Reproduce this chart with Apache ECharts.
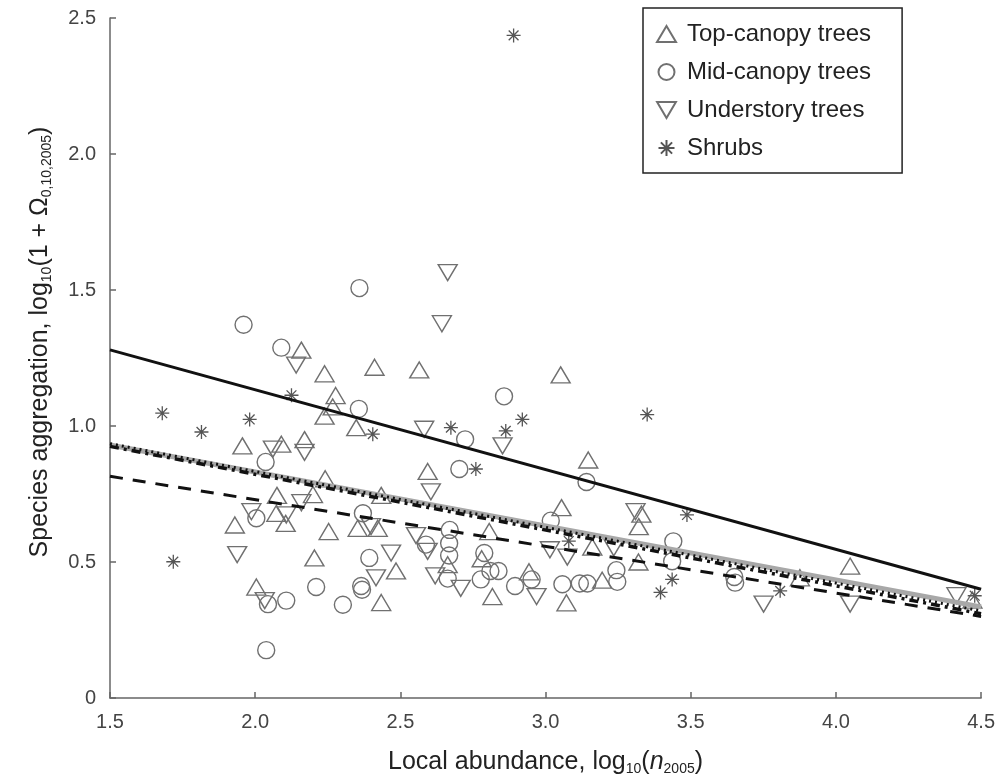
<!DOCTYPE html>
<html>
<head>
<meta charset="utf-8">
<title>Species aggregation vs local abundance</title>
<script src="https://cdn.jsdelivr.net/npm/echarts@6/dist/echarts.min.js"></script>
<style>
  html, body { margin: 0; padding: 0; background: #fff; }
  #chart { width: 998px; height: 781px; }
</style>
</head>
<body>
<div id="chart"></div>
<script>
// data: [log10(n2005), log10(1 + omega)]
var topCanopy = [
  [1.956, 0.927], [2.159, 1.279], [2.239, 1.192], [2.411, 1.216], [2.277, 1.112],
  [2.267, 1.070], [2.239, 1.036], [2.348, 0.994], [2.090, 0.933], [2.170, 0.950],
  [2.241, 0.806], [2.075, 0.745], [2.199, 0.748], [2.434, 0.745], [2.073, 0.679],
  [2.105, 0.642], [1.930, 0.636], [2.253, 0.612], [2.353, 0.624], [2.422, 0.624],
  [2.204, 0.515], [2.485, 0.467], [2.004, 0.408], [2.434, 0.351], [2.565, 1.206],
  [3.052, 1.188], [3.147, 0.875], [2.594, 0.833], [3.055, 0.700], [3.330, 0.676],
  [3.321, 0.630], [2.806, 0.612], [2.663, 0.490], [2.780, 0.512], [2.817, 0.373],
  [2.943, 0.464], [3.072, 0.350], [3.195, 0.433], [3.161, 0.555], [3.320, 0.500],
  [4.049, 0.485], [3.876, 0.442], [4.470, 0.360]
];
var midCanopy = [
  [2.359, 1.507], [1.960, 1.372], [2.090, 1.288], [2.357, 1.063], [2.036, 0.868],
  [2.004, 0.661], [2.371, 0.679], [2.393, 0.515], [2.365, 0.412], [2.210, 0.408],
  [2.044, 0.345], [2.107, 0.358], [2.302, 0.343], [2.368, 0.398], [2.038, 0.176],
  [2.857, 1.109], [2.723, 0.951], [2.703, 0.842], [3.141, 0.794], [3.018, 0.652],
  [3.440, 0.576], [3.436, 0.503], [2.588, 0.564], [2.670, 0.618], [2.668, 0.569],
  [2.668, 0.524], [2.663, 0.439], [2.789, 0.533], [2.810, 0.467], [2.838, 0.467],
  [2.777, 0.436], [2.895, 0.412], [2.952, 0.436], [3.058, 0.418], [3.118, 0.421],
  [3.144, 0.421], [3.244, 0.470], [3.247, 0.427], [3.653, 0.424], [3.650, 0.445]
];
var understory = [
  [2.141, 1.224], [2.061, 0.915], [2.170, 0.903], [2.159, 0.718], [1.987, 0.685],
  [2.107, 0.673], [2.399, 0.630], [1.938, 0.527], [2.468, 0.533], [2.416, 0.442],
  [2.033, 0.358], [2.663, 1.564], [2.643, 1.376], [2.582, 0.988], [2.852, 0.927],
  [2.605, 0.758], [3.310, 0.685], [2.554, 0.597], [2.594, 0.539], [2.620, 0.449],
  [2.708, 0.403], [2.969, 0.373], [3.015, 0.545], [3.075, 0.518], [3.235, 0.552],
  [3.751, 0.345], [4.049, 0.345], [4.415, 0.376]
];
var shrubs = [
  [2.890, 2.436], [1.680, 1.047], [1.815, 0.978], [1.981, 1.024], [2.125, 1.113],
  [2.405, 0.970], [1.718, 0.501], [2.674, 0.994], [2.863, 0.982], [2.920, 1.024],
  [3.350, 1.042], [2.760, 0.842], [3.487, 0.673], [3.436, 0.436], [3.396, 0.388],
  [3.808, 0.394], [4.478, 0.376], [3.080, 0.577]
];

// fitted lines, end points at x = 1.5 and x = 4.5
var lineX = [1.5, 4.5];
var solidFit = [1.28, 0.40];
var grayFit = [0.93, 0.335];
var dottedFit = [0.935, 0.32];
var dashDotFit = [0.925, 0.31];
var dashedFit = [0.815, 0.30];

var legendNames = ['Top-canopy trees', 'Mid-canopy trees', 'Understory trees', 'Shrubs'];

var FONT = "'Liberation Sans', Arial, Helvetica, sans-serif";
var markerGray = '#707070';
var asterisk = 'path://M10,0L10,20M0,10L20,10M3,3L17,17M3,17L17,3';
var downTriangle = 'path://M0,0L20,0L10,17Z';

function fitLine(ys) {
  return lineX.map(function (x, i) { return [x, ys[i]]; });
}

var chart = echarts.init(document.getElementById('chart'), null, { renderer: 'canvas' });

var option = {
  backgroundColor: '#fff',
  animation: false,
  grid: {
    left: 110,
    right: 15,
    top: 18,
    bottom: 76
  },
  legend: {
    data: [
      { name: legendNames[0], icon: 'triangle' },
      { name: legendNames[1], icon: 'circle' },
      { name: legendNames[2], icon: downTriangle },
      { name: legendNames[3], icon: asterisk }
    ],
    orient: 'vertical',
    left: 643,
    top: 8,
    padding: [14, 31, 13, 13],
    itemGap: 14,
    itemWidth: 19,
    itemHeight: 16,
    borderColor: '#222',
    borderWidth: 1.5,
    textStyle: {
      fontFamily: FONT,
      fontSize: 24,
      color: '#222',
      lineHeight: 23,
      padding: [0, 0, 0, 6]
    }
  },
  xAxis: {
    type: 'value',
    min: 1.5,
    max: 4.5,
    interval: 0.5,
    name: 'Local abundance, log{s|10}({i|n}{s|2005})',
    nameLocation: 'middle',
    nameGap: 50,
    nameTextStyle: {
      fontFamily: FONT,
      fontSize: 25,
      color: '#222',
      lineHeight: 28,
      rich: {
        s: { fontFamily: FONT, fontSize: 14, color: '#222', verticalAlign: 'bottom', lineHeight: 15 },
        i: { fontFamily: FONT, fontSize: 25, color: '#222', fontStyle: 'italic', lineHeight: 28 }
      }
    },
    axisLine: { onZero: false, lineStyle: { color: '#666', width: 1.5 } },
    axisTick: { inside: true, length: 6, lineStyle: { color: '#666', width: 1.5 } },
    axisLabel: {
      fontFamily: FONT,
      fontSize: 20,
      color: '#444',
      margin: 14,
      formatter: function (v) { return v.toFixed(1); }
    },
    splitLine: { show: false }
  },
  yAxis: {
    type: 'value',
    min: 0,
    max: 2.5,
    interval: 0.5,
    name: 'Species aggregation, log{s|10}(1 + Ω{s|0,10,2005})',
    nameLocation: 'middle',
    nameRotate: 90,
    nameGap: 56,
    nameTextStyle: {
      fontFamily: FONT,
      fontSize: 25,
      color: '#222',
      lineHeight: 28,
      padding: [0, 0, 0, 32],
      rich: {
        s: { fontFamily: FONT, fontSize: 14, color: '#222', verticalAlign: 'bottom', lineHeight: 15 }
      }
    },
    axisLine: { onZero: false, lineStyle: { color: '#666', width: 1.5 } },
    axisTick: { inside: true, length: 6, lineStyle: { color: '#666', width: 1.5 } },
    axisLabel: {
      fontFamily: FONT,
      fontSize: 20,
      color: '#444',
      margin: 14,
      formatter: function (v) { return v === 0 ? '0' : v.toFixed(1); }
    },
    splitLine: { show: false }
  },
  series: [
    {
      name: 'Top-canopy trees',
      type: 'scatter',
      symbol: 'triangle',
      symbolSize: [19, 16],
      data: topCanopy,
      itemStyle: { color: 'rgba(255,255,255,0)', borderColor: markerGray, borderWidth: 1.4, opacity: 1 }
    },
    {
      name: 'Mid-canopy trees',
      type: 'scatter',
      symbol: 'circle',
      symbolSize: 17,
      data: midCanopy,
      itemStyle: { color: 'rgba(255,255,255,0)', borderColor: markerGray, borderWidth: 1.4, opacity: 1 }
    },
    {
      name: 'Understory trees',
      type: 'scatter',
      symbol: 'triangle',
      symbolRotate: 180,
      symbolSize: [19, 16],
      data: understory,
      itemStyle: { color: 'rgba(255,255,255,0)', borderColor: markerGray, borderWidth: 1.4, opacity: 1 }
    },
    {
      name: 'Shrubs',
      type: 'scatter',
      symbol: asterisk,
      symbolSize: 14,
      data: shrubs,
      itemStyle: { color: 'rgba(255,255,255,0)', borderColor: '#555', borderWidth: 1.3, opacity: 1 }
    },
    {
      type: 'line',
      data: fitLine(grayFit),
      symbol: 'none',
      silent: true,
      z: 5,
      lineStyle: { color: '#a8a8a8', width: 5, type: 'solid' }
    },
    {
      type: 'line',
      data: fitLine(dottedFit),
      symbol: 'none',
      silent: true,
      z: 6,
      lineStyle: { color: '#111', width: 3, type: [2, 4] }
    },
    {
      type: 'line',
      data: fitLine(dashDotFit),
      symbol: 'none',
      silent: true,
      z: 6,
      lineStyle: { color: '#111', width: 3.5, type: [9, 5, 3, 5] }
    },
    {
      type: 'line',
      data: fitLine(dashedFit),
      symbol: 'none',
      silent: true,
      z: 6,
      lineStyle: { color: '#111', width: 3, type: [13, 10] }
    },
    {
      type: 'line',
      data: fitLine(solidFit),
      symbol: 'none',
      silent: true,
      z: 6,
      lineStyle: { color: '#111', width: 3, type: 'solid' }
    }
  ]
};

chart.setOption(option);
</script>
</body>
</html>
